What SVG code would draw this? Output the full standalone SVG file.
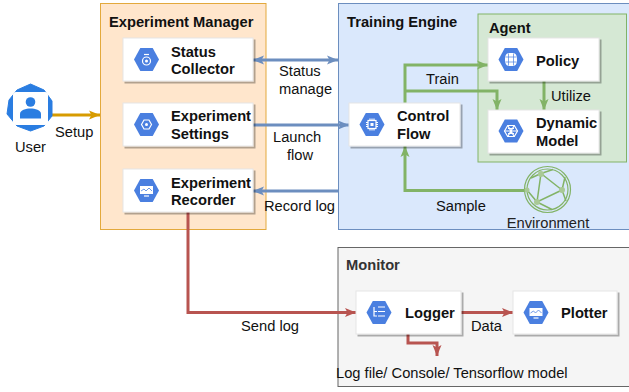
<svg xmlns="http://www.w3.org/2000/svg" width="629" height="392" viewBox="0 0 629 392">
<defs>
<filter id="sh" x="-10%" y="-10%" width="125%" height="130%"><feDropShadow dx="2" dy="2" stdDeviation="0.6" flood-color="#000" flood-opacity="0.3"/></filter>
<marker id="aB" markerUnits="userSpaceOnUse" markerWidth="12" markerHeight="10" refX="11" refY="5" orient="auto-start-reverse"><path d="M0 0.5L11 5L0 9.5L2.5 5Z" fill="#6c8ebf"/></marker>
<marker id="aG" markerUnits="userSpaceOnUse" markerWidth="12" markerHeight="10" refX="11" refY="5" orient="auto"><path d="M0 0.5L11 5L0 9.5L2.5 5Z" fill="#82b366"/></marker>
<marker id="aR" markerUnits="userSpaceOnUse" markerWidth="12" markerHeight="10" refX="11" refY="5" orient="auto"><path d="M0 0.5L11 5L0 9.5L2.5 5Z" fill="#b85450"/></marker>
<marker id="aO" markerUnits="userSpaceOnUse" markerWidth="12" markerHeight="10" refX="11" refY="5" orient="auto"><path d="M0 0.5L11 5L0 9.5L2.5 5Z" fill="#d79b00"/></marker>
<polygon id="hex" points="-12.5,0 -6.2,-11.5 6.2,-11.5 12.5,0 6.2,11.5 -6.2,11.5" fill="#4a7fe0"/>
</defs>
<style>
text{font-family:"Liberation Sans",Arial,sans-serif;font-size:14.7px;fill:#111}
.b{font-weight:bold}
.card{fill:#fff;stroke:#e6e6e6;stroke-width:1;filter:url(#sh)}
.c{fill:none;stroke-width:3}
.ic{fill:none;stroke:#fff;stroke-width:1.2}
.m{text-anchor:middle}
</style>
<rect width="629" height="392" fill="#fff"/>
<g id="experiment-manager"><rect x="100.500" y="3.500" width="165.500" height="226" fill="#ffe6cc" stroke="#e3a93c"/><text class="b" x="109" y="27">Experiment Manager</text></g>
<g id="training-engine"><rect x="338.500" y="3.500" width="295" height="226" fill="#dae8fc" stroke="#6c8ebf"/><text class="b" x="347" y="27">Training Engine</text></g>
<g id="agent"><rect x="478" y="14" width="148.500" height="148" fill="#d5e8d4" stroke="#82b366"/><text class="b" x="489" y="33">Agent</text></g>
<g id="monitor"><rect x="338" y="247.500" width="295" height="139" fill="#f5f5f5" stroke="#666"/><text class="b" x="346" y="270" style="fill:#333">Monitor</text></g>

<g id="connectors">
<path class="c" d="M52 115H100" stroke="#d79b00" marker-end="url(#aO)"/>
<path class="c" d="M253 60H338" stroke="#6c8ebf" marker-start="url(#aB)" marker-end="url(#aB)"/>
<path class="c" d="M253 125H349" stroke="#6c8ebf" marker-end="url(#aB)"/>
<path class="c" d="M338 191H253" stroke="#6c8ebf" marker-end="url(#aB)"/>
<path class="c" d="M405 103V65H488" stroke="#82b366" marker-end="url(#aG)"/>
<path class="c" d="M405 91H497V110" stroke="#82b366" marker-end="url(#aG)"/>
<path class="c" d="M544 81V110" stroke="#82b366" marker-end="url(#aG)"/>
<path class="c" d="M524 190.500H405V146" stroke="#82b366" marker-end="url(#aG)"/>
<path class="c" d="M188 212V312.500H356" stroke="#b85450" marker-end="url(#aR)"/>
<path class="c" d="M461 312.500H513" stroke="#b85450" marker-end="url(#aR)"/>
<path class="c" d="M408 334V343H437V356" stroke="#b85450" marker-end="url(#aR)"/>
</g>

<g id="user">
<polygon points="30.500,84 44,90 52,101 52,116 44,126 30.500,131 17,126 7,114 9,100 17,90" fill="#2a7de1" stroke="#2a7de1" stroke-linejoin="round"/>
<rect x="13" y="92" width="35" height="33" rx="3" fill="#fff"/>
<circle cx="30.500" cy="102" r="4.800" fill="#2a7de1"/>
<path d="M20 118.500V114C20 110 26 108.500 30.500 108.500S41 110 41 114V118.500Z" fill="#2a7de1"/>
<text class="m" x="30.500" y="152">User</text>
<text x="55" y="137">Setup</text>
</g>

<g id="status-collector"><rect class="card" x="123" y="38" width="130" height="43"/><use href="#hex" x="146.500" y="59.500"/><circle class="ic" cx="146.500" cy="61" r="4"/><circle cx="146.500" cy="61" r="1.500" fill="#fff"/><path class="ic" d="M144 54.500H149"/><text class="b" x="171" y="57">Status</text><text class="b" x="171" y="74">Collector</text></g>
<g id="experiment-settings"><rect class="card" x="123" y="103" width="130" height="43"/><use href="#hex" x="146.500" y="124.500"/><polygon class="ic" stroke-width="2" points="141.500,124.500 144,120 149,120 151.500,124.500 149,129 144,129"/><circle cx="146.500" cy="124.500" r="1.500" fill="#fff"/><text class="b" x="171" y="121">Experiment</text><text class="b" x="171" y="139">Settings</text></g>
<g id="experiment-recorder"><rect class="card" x="123" y="169" width="130" height="43"/><use href="#hex" x="146.500" y="190.500"/><rect x="140" y="186" width="13" height="8" fill="#fff"/><path d="M141 191L144 189L146 191L149 188L152 191" fill="none" stroke="#4a7fe0" stroke-width="0.800"/><path class="ic" d="M144 196H149"/><text class="b" x="171" y="188">Experiment</text><text class="b" x="171" y="205">Recorder</text></g>

<g id="control-flow"><rect class="card" x="349" y="103" width="111" height="43"/><use href="#hex" x="372" y="124.500"/><rect class="ic" x="368" y="120.500" width="8" height="8"/><rect x="370.500" y="123" width="3" height="3" fill="#fff"/><path class="ic" stroke-width="0.700" d="M366 122.500H368M366 124.500H368M366 126.500H368M376 122.500H378M376 124.500H378M376 126.500H378M370 118.500V120.500M372 118.500V120.500M374 118.500V120.500M370 128.500V130.500M372 128.500V130.500M374 128.500V130.500"/><text class="b" x="397" y="121">Control</text><text class="b" x="397" y="139">Flow</text></g>
<g id="policy"><rect class="card" x="488" y="38" width="111" height="43"/><use href="#hex" x="511" y="59.500"/><path d="M505 59.500C505 53 508 53 511 53S517 53 517 59.500S514 66 511 66S505 66 505 59.500Z" fill="#fff"/><path d="M505.500 57H516.500M505.500 62H516.500M508.500 53.500V65.500M513.500 53.500V65.500" fill="none" stroke="#4a7fe0" stroke-width="0.700"/><text class="b" x="536" y="66">Policy</text></g>
<g id="dynamic-model"><rect class="card" x="488" y="110" width="111" height="43"/><use href="#hex" x="511" y="131"/><polygon class="ic" points="504.500,131 507.700,125.500 514.300,125.500 517.500,131 514.300,136.500 507.700,136.500" stroke-width="0.900"/><path class="ic" stroke-width="0.900" d="M504.500 131H517.500M507.700 125.500L514.300 136.500M514.300 125.500L507.700 136.500M508 128.500H514M508 133.500H514"/><text class="b" x="536" y="128">Dynamic</text><text class="b" x="536" y="146">Model</text></g>

<g id="environment" fill="none" stroke="#82b366" stroke-width="1.200">
<circle cx="547.500" cy="189.500" r="23"/><circle cx="547.500" cy="189.500" r="20.500"/>
<path d="M541 173.500L562 190L537 202ZM541 173.500L553 169.500M562 190L565 177M562 190L566 201M537 202L552 209.500M537 202L527 190M541 173.500L531 178" stroke-width="1.500"/>
<g fill="#a9c996" stroke="none"><circle cx="541" cy="174" r="3"/><circle cx="562" cy="190" r="3"/><circle cx="537" cy="202" r="3"/><circle cx="527" cy="190" r="2.500"/></g>
<text class="m" x="548" y="228" style="fill:#222;stroke:none">Environment</text>
</g>

<g id="logger"><rect class="card" x="356" y="291" width="105" height="43"/><use href="#hex" x="379" y="312.500"/><path class="ic" d="M374 307V316H377M374 311.500H377M378 307H385M378 311.500H385M378 316H385"/><text class="b" x="405" y="318">Logger</text></g>
<g id="plotter"><rect class="card" x="513" y="291" width="104" height="43"/><use href="#hex" x="536" y="312.500"/><rect x="529.500" y="308" width="13" height="8" fill="#fff"/><path d="M530.500 313L533.500 311L535.500 313L538.500 310L541.500 313" fill="none" stroke="#4a7fe0" stroke-width="0.800"/><path class="ic" d="M533.500 318H538.500"/><text class="b" x="561" y="318">Plotter</text></g>

<g id="labels">
<text x="279" y="76">Status</text><text x="279" y="94">manage</text>
<text x="273" y="142">Launch</text><text x="287" y="160">flow</text>
<text x="264" y="211">Record log</text>
<text x="426" y="84">Train</text>
<text x="551" y="101">Utilize</text>
<text x="436" y="211">Sample</text>
<text x="241" y="331">Send log</text>
<text x="471" y="331">Data</text>
<text x="336" y="378">Log file/ Console/ Tensorflow model</text>
</g>
</svg>
